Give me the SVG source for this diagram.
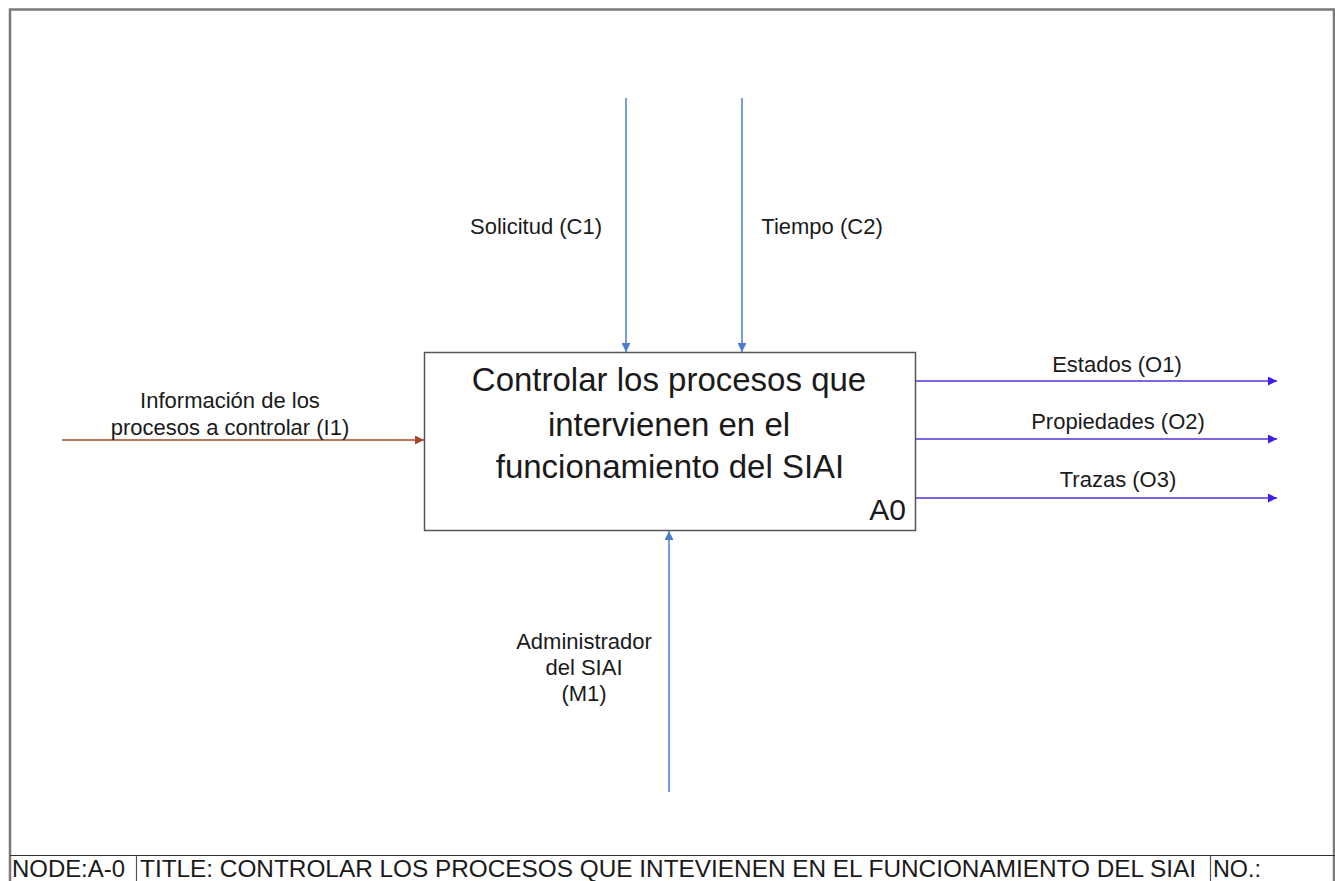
<svg xmlns="http://www.w3.org/2000/svg" width="1335" height="881" viewBox="0 0 1335 881">
<style>
text{font-family:"Liberation Sans",Arial,sans-serif;fill:#1a1a1a}
.lbl{font-size:22px;text-anchor:middle}
.big{font-size:33px;text-anchor:middle}
.ft{font-size:24px}
.ctl{stroke:#4a7fd0;stroke-width:1.5;fill:none}
.out{stroke:#5530e0;stroke-width:1.5;fill:none}
.inp{stroke:#a8482a;stroke-width:1.5;fill:none}
</style>
<defs>
<marker id="mb" viewBox="0 0 10 10" refX="10" refY="5" markerWidth="9" markerHeight="9" markerUnits="userSpaceOnUse" orient="auto"><path d="M0,0 L10,5 L0,10 z" fill="#4a7fd0"/></marker>
<marker id="mp" viewBox="0 0 10 10" refX="10" refY="5" markerWidth="9" markerHeight="9" markerUnits="userSpaceOnUse" orient="auto"><path d="M0,0 L10,5 L0,10 z" fill="#3a20e8"/></marker>
<marker id="mr" viewBox="0 0 10 10" refX="10" refY="5" markerWidth="9" markerHeight="9" markerUnits="userSpaceOnUse" orient="auto"><path d="M0,0 L10,5 L0,10 z" fill="#a8482a"/></marker>
</defs>
<rect width="1335" height="881" fill="#fff"/>
<g id="frame">
<path d="M10,881 L10,9.5 L1334,9.5 L1334,881" fill="none" stroke="#7a7a7a" stroke-width="2.5"/>
<line x1="10" y1="855.5" x2="1335" y2="855.5" stroke="#333" stroke-width="1.2"/>
<line x1="136.5" y1="856" x2="136.5" y2="881" stroke="#555" stroke-width="1.2"/>
<line x1="1210.5" y1="856" x2="1210.5" y2="881" stroke="#555" stroke-width="1.2"/>
<text class="ft" x="12" y="877" textLength="113" lengthAdjust="spacingAndGlyphs">NODE:A-0</text>
<text class="ft" x="140" y="877" textLength="1056" lengthAdjust="spacingAndGlyphs">TITLE: CONTROLAR LOS PROCESOS QUE INTEVIENEN EN EL FUNCIONAMIENTO DEL SIAI</text>
<text class="ft" x="1213" y="877" textLength="48" lengthAdjust="spacingAndGlyphs">NO.:</text>
</g>
<g id="A0">
<rect x="424.5" y="352.5" width="491" height="178" fill="#fff" stroke="#555" stroke-width="1.5"/>
<text class="big" x="669" y="391">Controlar los procesos que</text>
<text class="big" x="669" y="436">intervienen en el</text>
<text class="big" x="670" y="478">funcionamiento del SIAI</text>
<text x="906" y="520" style="font-size:30px;text-anchor:end">A0</text>
</g>
<g id="connectors">
<line class="ctl" x1="626" y1="98" x2="626" y2="352" marker-end="url(#mb)"/>
<line class="ctl" x1="742" y1="98" x2="742" y2="352" marker-end="url(#mb)"/>
<line class="ctl" x1="669" y1="792" x2="669" y2="531" marker-end="url(#mb)"/>
<line class="inp" x1="62" y1="440" x2="424" y2="440" marker-end="url(#mr)"/>
<line class="out" x1="916" y1="381" x2="1277" y2="381" marker-end="url(#mp)"/>
<line class="out" x1="916" y1="439" x2="1277" y2="439" marker-end="url(#mp)"/>
<line class="out" x1="916" y1="498" x2="1277" y2="498" marker-end="url(#mp)"/>
</g>
<g id="labels">
<text class="lbl" x="536" y="234">Solicitud (C1)</text>
<text class="lbl" x="822" y="234">Tiempo (C2)</text>
<text class="lbl" x="1117" y="372">Estados (O1)</text>
<text class="lbl" x="1118" y="429">Propiedades (O2)</text>
<text class="lbl" x="1118" y="487">Trazas (O3)</text>
<text class="lbl" x="230" y="408">Información de los</text>
<text class="lbl" x="230" y="435">procesos a controlar (I1)</text>
<text class="lbl" x="584" y="649">Administrador</text>
<text class="lbl" x="584" y="675">del SIAI</text>
<text class="lbl" x="584" y="701">(M1)</text>
</g>
</svg>
